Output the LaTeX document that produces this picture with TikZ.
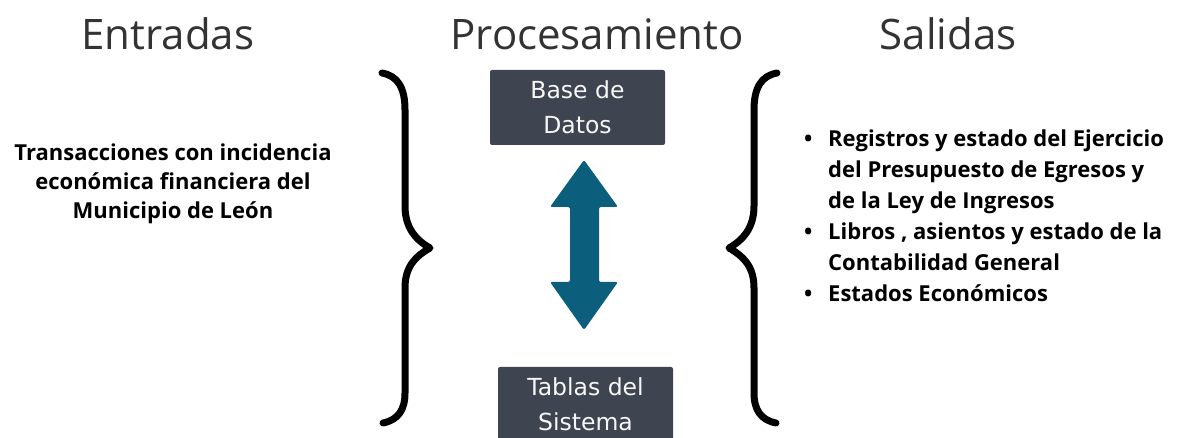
\documentclass[tikz,border=0pt]{standalone}
\usepackage{fontspec}
\setmainfont{Open Sans}
\newfontfamily\boxfont{DejaVu Sans}
\definecolor{boxgray}{HTML}{3E4450}
\definecolor{arrowblue}{HTML}{0C5F7C}
\definecolor{titlegray}{HTML}{333333}

\begin{document}
\begin{tikzpicture}[x=1pt,y=1pt,
    title/.style={font=\fontsize{42}{46}\selectfont,text=titlegray,inner sep=0},
    databox/.style={fill=boxgray,rounded corners=2pt,minimum width=175pt,minimum height=75pt,
        text=white!94!gray,align=center,font=\boxfont\fontsize{23.5}{35}\selectfont,inner sep=0},
    brace/.style={line width=7pt,line cap=round,line join=round}]
    \useasboundingbox (0,0) rectangle (1181,438);
    \clip (0,0) rectangle (1181,438);

    % titulos
    \node[title] (entradas) at (168,404) {Entradas};
    \node[title] (proc) at (597,404) {Procesamiento};
    \node[title] (salidas) at (948,404) {Salidas};

    % llaves
    \draw[brace](382,365) .. controls (398,362) and (405,350) .. (405,328)
        -- (405,232) .. controls (405,210) and (416,198) .. (430,190)
        .. controls (416,182) and (405,172) .. (405,150)
        -- (405,45) .. controls (405,28) and (398,18) .. (383,15);
    \draw[brace](777,365) .. controls (761,362) and (754,350) .. (754,328)
        -- (754,232) .. controls (754,210) and (743,198) .. (729,190)
        .. controls (743,182) and (754,172) .. (754,150)
        -- (754,45) .. controls (754,28) and (761,18) .. (776,15);

    % entradas
    \node[font=\bfseries\fontsize{22}{29}\selectfont,align=center,inner sep=0] (trans) at (173,254)
        {Transacciones con incidencia\\econ\'omica financiera del\\Municipio de Le\'on};

    % procesamiento
    \node[databox] (base) at (577.5,330.5) {Base de\\Datos};
    \node[databox] (tablas) at (585.5,33.5) {Tablas del\\Sistema};
    \fill[arrowblue,rounded corners=2pt] (584,278) -- (618,231) -- (599,231) -- (599,156)
        -- (618,156) -- (584,108) -- (550,156) -- (570,156) -- (570,231) -- (550,231) -- cycle;

    % salidas
    \node[font=\bfseries\fontsize{22}{31}\selectfont,align=left,inner sep=0,anchor=west] (lista) at (804,222)
        {\makebox[24pt][l]{\textbullet}Registros y estado del Ejercicio\\
         \hspace*{24pt}del Presupuesto de Egresos y\\
         \hspace*{24pt}de la Ley de Ingresos\\
         \makebox[24pt][l]{\textbullet}Libros , asientos y estado de la\\
         \hspace*{24pt}Contabilidad General\\
         \makebox[24pt][l]{\textbullet}Estados Econ\'omicos};
\end{tikzpicture}
\end{document}
